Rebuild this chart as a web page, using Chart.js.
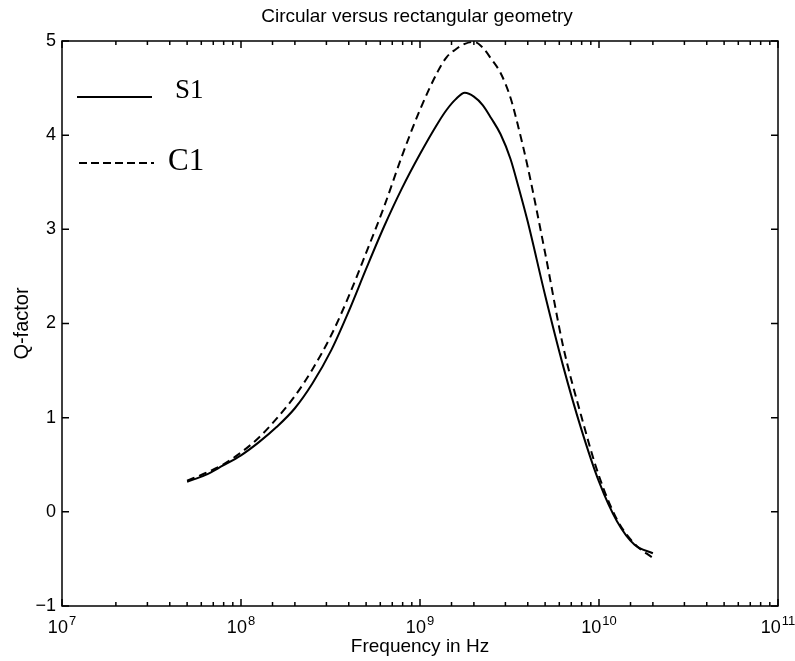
<!DOCTYPE html>
<html><head><meta charset="utf-8">
<script src="https://cdn.jsdelivr.net/npm/chart.js@4.4.1/dist/chart.umd.min.js"></script>
<style>html,body{margin:0;padding:0;background:#fff;}#wrap{width:795px;height:661px;}</style>
</head><body><div id="wrap"><canvas id="c" width="795" height="661"></canvas></div>
<script>
const freqs = [5.0e7, 6.3e7, 7.9e7, 1.0e8, 1.26e8, 1.58e8, 2.0e8, 2.5e8, 3.2e8, 4.0e8, 5.0e8, 6.3e8, 7.9e8, 1.0e9, 1.26e9, 1.41e9, 1.58e9, 1.78e9, 2.0e9, 2.24e9, 2.5e9, 2.82e9, 3.2e9, 3.55e9, 4.0e9, 5.0e9, 6.3e9, 7.9e9, 1.0e10, 1.26e10, 1.58e10, 2.0e10];
const s1 = [0.32, 0.39, 0.49, 0.60, 0.74, 0.90, 1.10, 1.36, 1.72, 2.13, 2.58, 3.03, 3.43, 3.80, 4.13, 4.27, 4.38, 4.45, 4.41, 4.32, 4.18, 4.01, 3.75, 3.45, 3.08, 2.30, 1.55, 0.90, 0.32, -0.10, -0.35, -0.44];
const c1 = [0.33, 0.41, 0.50, 0.63, 0.79, 0.99, 1.23, 1.51, 1.88, 2.29, 2.75, 3.24, 3.77, 4.27, 4.68, 4.83, 4.91, 4.97, 4.99, 4.93, 4.81, 4.66, 4.40, 4.08, 3.66, 2.75, 1.76, 1.04, 0.38, -0.08, -0.34, -0.49];
const seriesNames = ['S1', 'C1'];
const xTickValues = [1e7, 1e8, 1e9, 1e10, 1e11];
const xTickBase = '10';
const xTickExponents = ['7', '8', '9', '10', '11'];
const yTickValues = [-1, 0, 1, 2, 3, 4, 5];
const yTickLabels = ['\u22121', '0', '1', '2', '3', '4', '5'];
const titleText = 'Circular versus rectangular geometry';
const xTitle = 'Frequency in Hz';
const yTitle = 'Q-factor';

const SANS = "'Liberation Sans', Arial, Helvetica, sans-serif";
const SERIF = "'Liberation Serif', 'Times New Roman', serif";

const frame = {
  id: 'frame',
  afterDatasetsDraw(chart) {
    const {ctx, chartArea: {left, right, top, bottom}, scales: {x, y}} = chart;
    ctx.save();
    ctx.strokeStyle = '#000';
    ctx.lineWidth = 1.5;
    ctx.setLineDash([]);
    ctx.strokeRect(left, top, right - left, bottom - top);
    ctx.beginPath();
    x.ticks.forEach(t => {
      const px = x.getPixelForValue(t.value);
      const lg = Math.log10(t.value);
      const len = Math.abs(lg - Math.round(lg)) < 1e-6 ? 7 : 4;
      ctx.moveTo(px, bottom); ctx.lineTo(px, bottom - len);
      ctx.moveTo(px, top); ctx.lineTo(px, top + len);
    });
    y.ticks.forEach(t => {
      const py = y.getPixelForValue(t.value);
      ctx.moveTo(left, py); ctx.lineTo(left + 7, py);
      ctx.moveTo(right, py); ctx.lineTo(right - 7, py);
    });
    ctx.stroke();

    // x tick labels: 10 with raised exponent
    ctx.fillStyle = '#000';
    ctx.textAlign = 'left';
    ctx.textBaseline = 'alphabetic';
    xTickValues.forEach((v, i) => {
      const px = x.getPixelForValue(v);
      ctx.font = '18px ' + SANS;
      const wb = ctx.measureText(xTickBase).width;
      ctx.font = '13px ' + SANS;
      const we = ctx.measureText(xTickExponents[i]).width;
      const x0 = px - (wb + we + 1) / 2;
      ctx.font = '18px ' + SANS;
      ctx.fillText(xTickBase, x0, bottom + 27);
      ctx.font = '13px ' + SANS;
      ctx.fillText(xTickExponents[i], x0 + wb + 1, bottom + 19);
    });

    // title
    ctx.font = '19px ' + SANS;
    ctx.textAlign = 'center';
    ctx.textBaseline = 'middle';
    ctx.fillText(titleText, (left + right) / 2 - 3, 17);

    // legend
    ctx.lineWidth = 2;
    ctx.beginPath();
    ctx.moveTo(left + 15, top + 56); ctx.lineTo(left + 90, top + 56);
    ctx.stroke();
    ctx.setLineDash([8, 4]);
    ctx.beginPath();
    ctx.moveTo(left + 17, top + 122); ctx.lineTo(left + 92, top + 122);
    ctx.stroke();
    ctx.setLineDash([]);
    ctx.textAlign = 'left';
    ctx.textBaseline = 'alphabetic';
    ctx.font = '27px ' + SERIF;
    ctx.fillText(seriesNames[0], left + 113, top + 57);
    ctx.font = '31px ' + SERIF;
    ctx.fillText(seriesNames[1], left + 106, top + 129);
    ctx.restore();
  }
};

new Chart(document.getElementById('c'), {
  type: 'line',
  data: {
    datasets: [
      {label: seriesNames[0], data: freqs.map((f, i) => ({x: f, y: s1[i]})), borderColor: '#000', borderWidth: 2, pointRadius: 0, fill: false, cubicInterpolationMode: 'monotone'},
      {label: seriesNames[1], data: freqs.map((f, i) => ({x: f, y: c1[i]})), borderColor: '#000', borderWidth: 2, borderDash: [8, 5], pointRadius: 0, fill: false, cubicInterpolationMode: 'monotone'}
    ]
  },
  options: {
    responsive: false,
    animation: false,
    devicePixelRatio: 1,
    layout: {padding: {top: 41, right: 17, bottom: 0, left: 0}},
    plugins: {legend: {display: false}, title: {display: false}, tooltip: {enabled: false}},
    scales: {
      x: {
        type: 'logarithmic', min: 1e7, max: 1e11,
        grid: {display: false, drawTicks: false},
        border: {display: false},
        ticks: {
          autoSkip: false, maxRotation: 0, minRotation: 0, padding: 12, color: '#000',
          font: {family: SANS, size: 18},
          callback: () => ''
        },
        title: {display: true, text: xTitle, color: '#000', font: {family: SANS, size: 19}, padding: {top: 0, bottom: 3}},
        afterFit: (s) => { s.height = 55; }
      },
      y: {
        min: -1, max: 5,
        grid: {display: false, drawTicks: false},
        border: {display: false},
        ticks: {
          stepSize: 1, padding: 6, color: '#000',
          font: {family: SANS, size: 18},
          callback: (v) => {
            const i = yTickValues.indexOf(v);
            return i >= 0 ? yTickLabels[i] : '';
          }
        },
        title: {display: true, text: yTitle, color: '#000', font: {family: SANS, size: 20}, padding: {top: 10, bottom: 0}},
        afterFit: (s) => { s.width = 62; }
      }
    }
  },
  plugins: [frame]
});
</script>
</body></html>
